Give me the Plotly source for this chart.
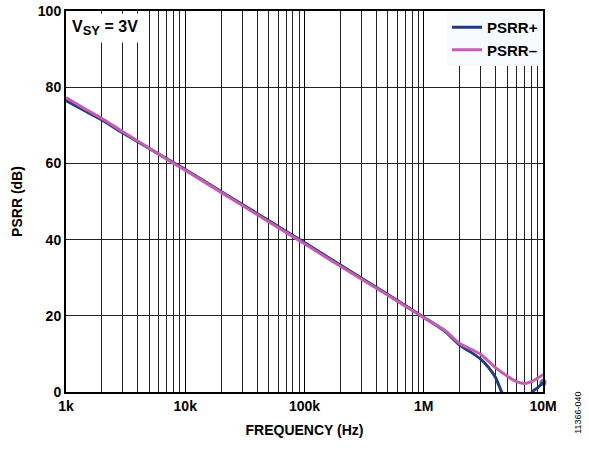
import plotly.graph_objects as go

# Data (frequency in Hz, PSRR in dB)
freq_pos = [1e3, 1.5e3, 2e3, 3e3, 5e3, 7e3, 1e4, 2e4, 5e4, 1e5, 2e5, 5e5, 1e6, 1.5e6, 2e6,
            2.5e6, 3e6, 3.5e6, 4e6, 4.5e6, 5.5e6, 6.5e6, 7.5e6, 8.1e6, 9e6, 1e7]
psrr_pos = [76.5, 73.5, 71.4, 68.0, 63.9, 61.2, 58.4, 52.6, 45.0, 39.2, 33.3, 25.6, 19.6, 16.0, 12.3,
            10.4, 8.6, 6.4, 3.8, 0.0, -5.0, -6.0, -3.5, 0.0, 1.1, 2.5]

freq_neg = [1e3, 1.5e3, 2e3, 3e3, 5e3, 7e3, 1e4, 2e4, 5e4, 1e5, 2e5, 5e5, 1e6, 1.5e6, 2e6,
            2.5e6, 3e6, 4e6, 5e6, 6e6, 7e6, 8e6, 9e6, 1e7]
psrr_neg = [77.3, 74.0, 71.8, 68.3, 64.0, 61.1, 58.2, 52.4, 44.7, 38.9, 33.0, 25.4, 19.5, 16.2, 12.7,
            11.2, 9.9, 6.4, 4.2, 2.7, 2.2, 2.7, 3.6, 4.6]

x_tickvals = [1e3, 1e4, 1e5, 1e6, 1e7]
x_ticktext = ["1k", "10k", "100k", "1M", "10M"]
y_tickvals = [0, 20, 40, 60, 80, 100]

FONT = "Liberation Sans, Arial, sans-serif"

end_sizes = [0] * (len(freq_pos) - 1) + [7]

fig = go.Figure()
fig.add_trace(go.Scatter(x=freq_pos, y=psrr_pos, mode="lines+markers", name="PSRR+",
                         line=dict(color="#1f3b80", width=3, shape="spline", smoothing=0.6),
                         marker=dict(size=end_sizes, color="#1f3b80", line=dict(width=0)),
                         cliponaxis=False))
fig.add_trace(go.Scatter(x=freq_neg, y=psrr_neg, mode="lines", name="PSRR–",
                         line=dict(color="#c75cb3", width=3, shape="spline", smoothing=0.6)))

fig.update_layout(
    width=589, height=450,
    margin=dict(l=66, r=46, t=11, b=58, autoexpand=False),
    paper_bgcolor="white", plot_bgcolor="white",
    font=dict(family=FONT, size=14, color="black"),
    showlegend=True,
    legend=dict(x=1, y=1, xanchor="right", yanchor="top",
                bgcolor="#f7fafc", borderwidth=0,
                font=dict(family=FONT, size=15, color="black", weight="bold"),
                tracegroupgap=0, itemwidth=30,
                ),
)

fig.update_xaxes(
    type="log", range=[3, 7], automargin=False,
    tickvals=x_tickvals, ticktext=x_ticktext,
    tickfont=dict(family=FONT, size=14, weight="bold"),
    showgrid=True, gridcolor="black", gridwidth=1,
    minor=dict(dtick="D1", showgrid=True, gridcolor="#222222", gridwidth=1, ticks=""),
    showline=True, linecolor="black", linewidth=2, mirror=True,
    ticks="", zeroline=False,
    title=dict(text="<b>FREQUENCY (Hz)</b>", font=dict(family=FONT, size=14), standoff=12),
)
fig.update_yaxes(
    range=[0, 100], tickvals=y_tickvals, automargin=False,
    tickfont=dict(family=FONT, size=14, weight="bold"),
    showgrid=True, gridcolor="#222222", gridwidth=1,
    showline=True, linecolor="black", linewidth=2, mirror=True,
    ticks="", zeroline=False,
    title=dict(text="<b>PSRR (dB)</b>", font=dict(family=FONT, size=14), standoff=12),
)

fig.add_annotation(
    xref="paper", yref="paper", x=0.002, y=0.996, xanchor="left", yanchor="top",
    text="<b>V<sub><span style='font-size:13px'>SY</span></sub> = 3V</b>", showarrow=False,
    font=dict(family=FONT, size=16, color="black"),
    bgcolor="white", borderpad=4,
)
fig.add_annotation(
    xref="paper", yref="paper", x=1.073, y=-0.055, xanchor="center", yanchor="middle",
    text="11366-040", showarrow=False, textangle=-90,
    font=dict(family=FONT, size=9, color="black"),
)

fig.write_html("out.html", config={"displayModeBar": False},
               post_script="document.body.style.margin='0';")
